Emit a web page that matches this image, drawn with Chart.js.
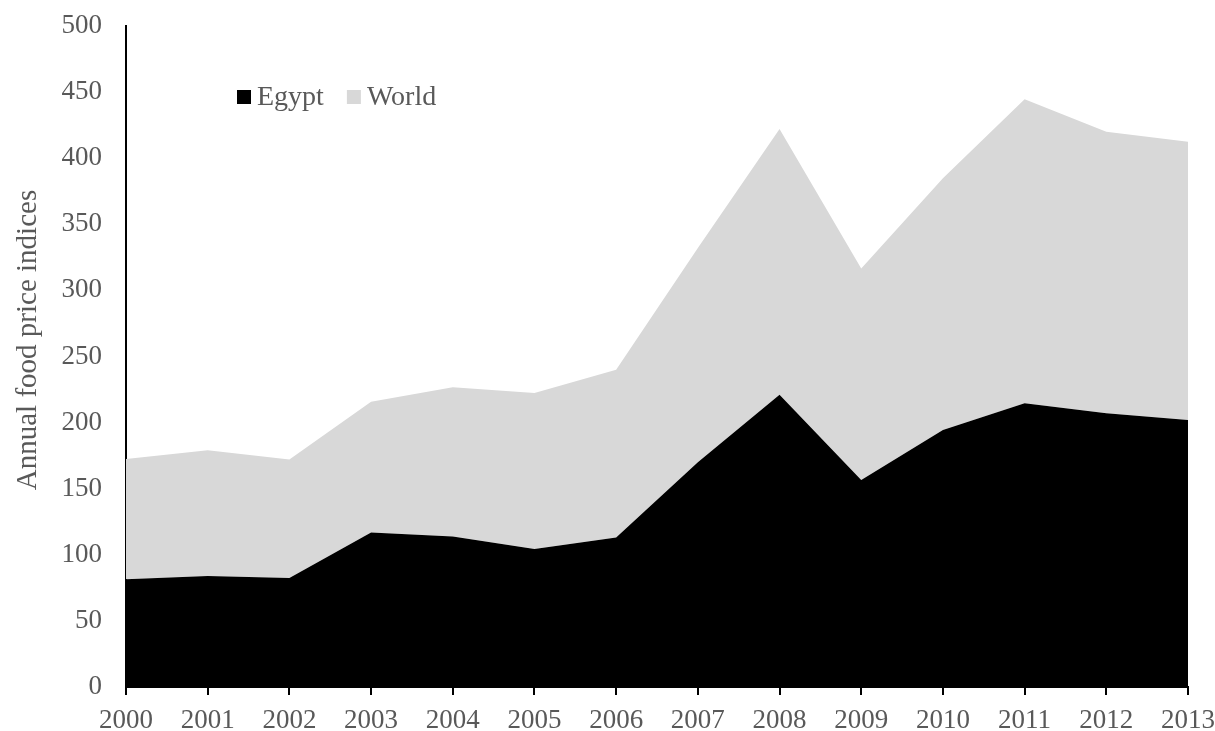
<!DOCTYPE html>
<html>
<head>
<meta charset="utf-8">
<script src="https://cdn.jsdelivr.net/npm/chart.js@4.4.0/dist/chart.umd.min.js"></script>
<style>
  html, body { margin: 0; padding: 0; background: #ffffff; }
  #wrap { width: 1215px; height: 731px; }
</style>
</head>
<body>
<div id="wrap"><canvas id="chart" width="1215" height="731"></canvas></div>
<script>
// values (index points)
const years = ['2000', '2001', '2002', '2003', '2004', '2005', '2006',
               '2007', '2008', '2009', '2010', '2011', '2012', '2013'];
const egypt = [81.5, 84, 82.5, 116.8, 113.8, 104.4, 113, 170, 221, 156.5, 194.4, 214.6, 207, 202];
const world = [91, 95, 89.5, 99, 113, 118, 127, 162, 201, 160, 190.5, 230, 213, 210.5];
const yTitle = 'Annual food price indices';

const textGray = '#595959';
const serif = '"Liberation Serif", "Times New Roman", serif';

// legend drawn inside the plot, top-left, like the original
const insideLegend = {
    id: 'insideLegend',
    afterDraw(chart) {
        const ctx = chart.ctx;
        ctx.save();
        ctx.font = '28px ' + serif;
        ctx.textBaseline = 'middle';
        let x = 237;
        const y = 97;
        chart.data.datasets.forEach(ds => {
            ctx.fillStyle = ds.backgroundColor;
            ctx.fillRect(x, y - 7, 14, 14);
            x += 20;
            ctx.fillStyle = textGray;
            ctx.fillText(ds.label, x, y + 1);
            x += ctx.measureText(ds.label).width + 23;
        });
        ctx.restore();
    }
};

// axis title sits a bit above the middle of the axis in the original
const axisTitle = {
    id: 'axisTitle',
    afterDraw(chart) {
        const ctx = chart.ctx;
        ctx.save();
        ctx.translate(28, 340);
        ctx.rotate(-Math.PI / 2);
        ctx.font = '29px ' + serif;
        ctx.fillStyle = textGray;
        ctx.textAlign = 'center';
        ctx.textBaseline = 'middle';
        ctx.fillText(yTitle, 0, 0);
        ctx.restore();
    }
};

new Chart(document.getElementById('chart').getContext('2d'), {
    type: 'line',
    data: {
        labels: years,
        datasets: [
            {
                label: 'Egypt',
                data: egypt,
                backgroundColor: '#000000',
                borderWidth: 0,
                pointRadius: 0,
                fill: 'origin',
                tension: 0
            },
            {
                label: 'World',
                data: world,
                backgroundColor: '#d8d8d8',
                borderWidth: 0,
                pointRadius: 0,
                fill: '-1',
                tension: 0
            }
        ]
    },
    options: {
        responsive: false,
        animation: false,
        layout: { padding: { top: 26, right: 27, left: 0, bottom: 0 } },
        plugins: {
            legend: { display: false },
            tooltip: { enabled: false }
        },
        scales: {
            x: {
                type: 'category',
                offset: false,
                grid: {
                    display: true,
                    drawOnChartArea: false,
                    drawTicks: true,
                    tickLength: 8,
                    color: '#000000',
                    lineWidth: 2
                },
                border: { display: true, color: '#000000', width: 2 },
                ticks: {
                    color: textGray,
                    font: { family: serif, size: 27 },
                    padding: 10,
                    maxRotation: 0,
                    autoSkip: false
                },
                afterFit: s => {
                    s.height = 44;
                    s.paddingLeft = 0;
                    s.paddingRight = 0;
                }
            },
            y: {
                stacked: true,
                min: 0,
                max: 500,
                grid: { display: false, drawTicks: false },
                border: { display: true, color: '#000000', width: 2 },
                ticks: {
                    stepSize: 50,
                    color: textGray,
                    font: { family: serif, size: 27 },
                    padding: 24
                },
                afterFit: s => {
                    s.width = 126;
                    s.paddingTop = 0;
                    s.paddingBottom = 0;
                }
            }
        }
    },
    plugins: [insideLegend, axisTitle]
});
</script>
</body>
</html>
